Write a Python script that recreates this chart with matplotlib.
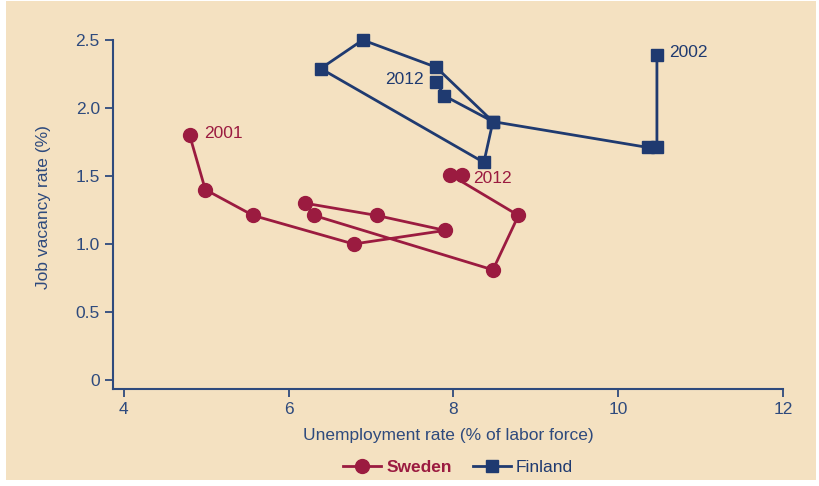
import matplotlib.pyplot as plt
from matplotlib.patches import Rectangle

# Sweden 2001-2012
swe_unemp = [4.80, 4.99, 5.57, 6.79, 7.90, 7.07, 6.20, 6.31, 8.48, 8.79, 7.96, 8.11]
swe_vac = [1.80, 1.40, 1.21, 1.00, 1.10, 1.21, 1.30, 1.21, 0.81, 1.21, 1.51, 1.51]

# Finland 2002-2012
fin_unemp = [10.47, 10.47, 10.36, 8.48, 7.79, 6.90, 6.39, 8.37, 8.48, 7.89, 7.79]
fin_vac = [2.39, 1.71, 1.71, 1.90, 2.30, 2.50, 2.29, 1.60, 1.90, 2.09, 2.19]

xticks = [4, 6, 8, 10, 12]
yticks = [0, 0.5, 1.0, 1.5, 2.0, 2.5]
ytick_labels = ["0", "0.5", "1.0", "1.5", "2.0", "2.5"]

bg = "#F4E1C1"
red = "#9B1B40"
blue = "#1F3A70"
axis_col = "#2E4A7D"

plt.rcParams["font.family"] = ["Liberation Sans", "DejaVu Sans"]
fs = 12.5

fig = plt.figure(figsize=(8.2, 4.86), dpi=100, facecolor="white")
fig.patches.append(Rectangle((0.007, 0.012), 0.988, 0.985, transform=fig.transFigure,
                             facecolor=bg, edgecolor="none", zorder=-10))
ax = fig.add_axes([0.1378, 0.1996, 0.8171, 0.7181])
ax.set_facecolor(bg)
ax.set_zorder(1)

ax.plot(swe_unemp, swe_vac, color=red, lw=2, marker="o", ms=10, label="Sweden", clip_on=False)
ax.plot(fin_unemp, fin_vac, color=blue, lw=2, marker="s", ms=9, label="Finland", clip_on=False)

ax.text(4.97, 1.81, "2001", color=red, fontsize=fs, va="center", ha="left")
ax.text(8.24, 1.48, "2012", color=red, fontsize=fs, va="center", ha="left")
ax.text(7.64, 2.21, "2012", color=blue, fontsize=fs, va="center", ha="right")
ax.text(10.62, 2.41, "2002", color=blue, fontsize=fs, va="center", ha="left")

ax.set_xlim(3.87, 12)
ax.set_ylim(-0.066, 2.5)
ax.set_xticks(xticks)
ax.set_yticks(yticks)
ax.set_yticklabels(ytick_labels)

for s in ["top", "right"]:
    ax.spines[s].set_visible(False)
for s in ["left", "bottom"]:
    ax.spines[s].set_color(axis_col)
    ax.spines[s].set_linewidth(1.5)
ax.tick_params(colors=axis_col, labelcolor=axis_col, labelsize=fs, length=6, width=1.3)

ax.set_xlabel("Unemployment rate (% of labor force)", color=axis_col, fontsize=fs, labelpad=8)
ax.set_ylabel("Job vacancy rate (%)", color=axis_col, fontsize=fs)
ax.yaxis.set_label_coords(-0.092, 0.52)

leg = ax.legend(loc="center", bbox_to_anchor=(0.515, -0.225), ncol=2, frameon=False,
                fontsize=fs, handlelength=2.2, columnspacing=1.2, handletextpad=0.3)
leg.get_texts()[0].set_color(red)
leg.get_texts()[0].set_fontweight("bold")
leg.get_texts()[1].set_color(blue)

plt.savefig("out.png", dpi=100, facecolor="white")
